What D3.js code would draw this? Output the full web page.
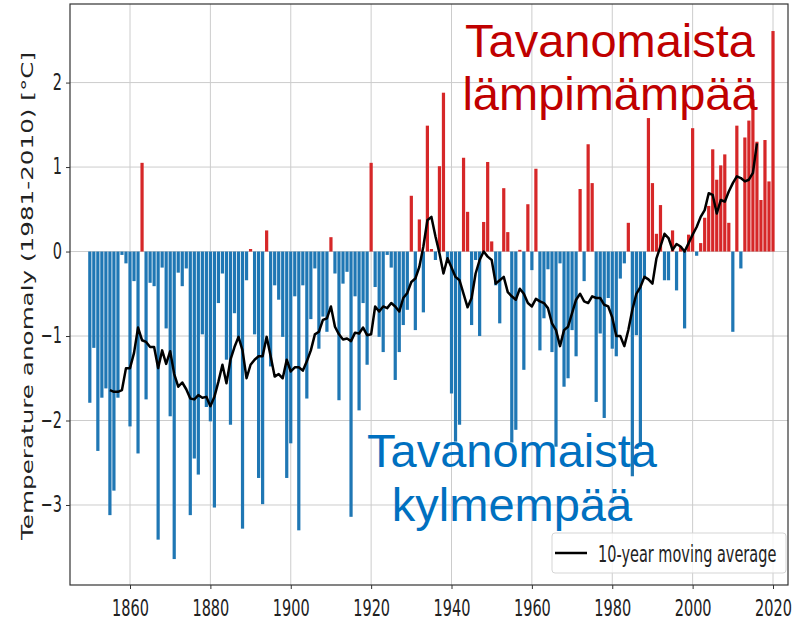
<!DOCTYPE html>
<html>
<head>
<meta charset="utf-8">
<script src="https://cdn.jsdelivr.net/npm/d3@7"></script>
<style>
  body { margin: 0; background: #fff; }
  svg { display: block; }
</style>
</head>
<body>
<div id="chart"></div>
<script>
'use strict';

// yearly temperature anomaly, 1850-2020 (one value per year)
var startYear = 1850;
var anomaly = [
  -1.79, -1.14, -2.36, -1.73, -1.62, -3.12, -2.83, -1.73, -0.04, -0.14,
  -2.07, -0.35, -2.39,  1.05, -1.75, -0.37, -0.41, -3.41, -0.19, -0.91,
  -1.95, -3.64, -0.25, -0.41, -0.20, -3.12, -2.45, -2.64, -0.98, -1.84,
  -2.01, -3.03, -0.61, -0.26, -1.28, -2.05, -0.73, -1.05, -3.28, -0.34,
   0.03, -0.98, -2.68, -2.99,  0.25, -1.36, -0.40, -0.57, -1.01, -2.68,
  -2.27, -0.53, -3.30, -0.40, -1.74, -0.80, -0.20, -1.15, -0.77, -0.95,
   0.17, -0.26, -1.76, -0.38, -0.24, -3.14, -0.53, -1.88, -0.61, -1.34,
   1.05, -0.42, -1.01, -1.19, -0.04, -0.19, -1.52, -1.19, -0.87, -0.69,
   0.66, -0.93,  0.38, -0.72,  1.49,  0.03, -0.10,  1.01,  1.88, -0.12,
  -1.68, -2.25, -2.05,  1.11,  0.47, -0.87, -0.10, -1.00,  0.35,  1.06,
   0.12, -0.40, -0.85,  0.75,  0.23, -2.26, -2.11,  0.02, -1.40,  0.56,
  -0.22,  0.98, -1.17, -0.79, -0.21, -1.19, -2.31, -0.14, -1.60, -1.50,
  -0.93, -1.24,  0.74, -0.35,  1.27,  0.81, -1.78, -0.97, -1.97, -0.55,
  -1.15, -1.24, -0.32, -0.14,  0.34, -2.66, -0.99, -2.31, -0.30,  1.58,
   0.81,  0.21,  0.55, -0.34, -0.34,  0.25, -0.46,  0.06, -0.91,  0.20,
   1.46, -0.05,  0.10,  0.40,  0.54,  1.21,  0.85,  1.02,  1.15,  0.34,
  -0.95,  1.49, -0.20,  1.35,  1.55,  1.80,  1.30,  0.61,  1.32,  0.83,
   2.61
];

// 10-year moving average, 1855-2016
var maStart = 1855;
var movingAvg = [
                                -1.64, -1.66, -1.66, -1.64, -1.38,
  -1.38, -1.20, -0.90, -1.05, -1.07, -1.13, -1.13, -1.38, -1.17, -1.33,
  -1.18, -1.45, -1.60, -1.55, -1.63, -1.74, -1.75, -1.70, -1.73, -1.72,
  -1.83, -1.72, -1.54, -1.34, -1.56, -1.28, -1.13, -1.01, -1.17, -1.50,
  -1.34, -1.28, -1.24, -1.24, -1.01, -1.24, -1.48, -1.45, -1.50, -1.28,
  -1.42, -1.37, -1.37, -1.41, -1.30, -1.17, -0.98, -0.95, -0.81, -0.79,
  -0.65, -0.89, -0.98, -1.04, -1.03, -1.06, -0.96, -0.97, -0.90, -0.99,
  -0.98, -0.65, -0.71, -0.65, -0.67, -0.61, -0.65, -0.71, -0.55, -0.49,
  -0.36, -0.32, -0.18,  0.06,  0.37,  0.41,  0.18, -0.02, -0.26, -0.08,
  -0.19, -0.30, -0.34, -0.50, -0.66, -0.55, -0.26, -0.10,  0.00, -0.06,
  -0.10, -0.38, -0.34, -0.30, -0.48, -0.53, -0.57, -0.44, -0.50, -0.61,
  -0.65, -0.56, -0.59, -0.61, -0.67, -0.85, -0.93, -1.12, -0.93, -0.89,
  -0.73, -0.57, -0.50, -0.59, -0.61, -0.53, -0.55, -0.55, -0.63, -0.65,
  -0.78, -1.00, -1.00, -1.12, -0.93, -0.69, -0.50, -0.42, -0.30, -0.33,
  -0.38, -0.08,  0.06,  0.21,  0.16,  0.02,  0.09,  0.06,  0.00,  0.10,
   0.20,  0.29,  0.41,  0.49,  0.69,  0.67,  0.45,  0.61,  0.59,  0.71,
   0.81,  0.89,  0.87,  0.83,  0.85,  0.93,  1.28
];

var xTicks = [1860, 1880, 1900, 1920, 1940, 1960, 1980, 2000, 2020];
var yTicks = [-3, -2, -1, 0, 1, 2];
var yLabel = 'Temperature anomaly (1981-2010) [°C]';
var legendLabel = '10-year moving average';
var warmText = ['Tavanomaista', 'lämpimämpää'];
var coldText = ['Tavanomaista', 'kylmempää'];

var width = 793;
var height = 623;
var plotLeft = 70, plotRight = 788, plotTop = 4, plotBottom = 585;
var stretch = 1.55;   // the picture is stretched vertically
var tickFont = 'DejaVu Sans';

var svg = d3.select('#chart')
  .append('svg')
  .attr('width', width)
  .attr('height', height);

var x = d3.scaleLinear().domain([1845.07, 2023.73]).range([plotLeft, plotRight]);
var y = d3.scaleLinear().domain([-3.947, 2.93]).range([plotBottom, plotTop]);

// grid
var grid = svg.append('g').attr('stroke', '#cccccc').attr('stroke-width', 1);
grid.selectAll('line.gx')
  .data(xTicks)
  .enter()
  .append('line')
  .attr('class', 'gx')
  .attr('x1', function(d) { return x(d); })
  .attr('x2', function(d) { return x(d); })
  .attr('y1', plotTop)
  .attr('y2', plotBottom);
grid.selectAll('line.gy')
  .data(yTicks)
  .enter()
  .append('line')
  .attr('class', 'gy')
  .attr('x1', plotLeft)
  .attr('x2', plotRight)
  .attr('y1', function(d) { return y(d); })
  .attr('y2', function(d) { return y(d); });

// bars
var bw = x(startYear + 0.4) - x(startYear - 0.4);
svg.append('g')
  .selectAll('rect')
  .data(anomaly)
  .enter()
  .append('rect')
  .attr('x', function(d, i) { return x(startYear + i) - bw / 2; })
  .attr('width', bw)
  .attr('y', function(d) { return y(Math.max(0, d)); })
  .attr('height', function(d) { return Math.abs(y(d) - y(0)); })
  .attr('fill', function(d) { return d >= 0 ? '#d62728' : '#1f77b4'; });

// moving average
var line = d3.line()
  .x(function(d, i) { return x(maStart + i); })
  .y(function(d) { return y(d); });
svg.append('path')
  .datum(movingAvg)
  .attr('d', line)
  .attr('fill', 'none')
  .attr('stroke', '#000')
  .attr('stroke-width', 2.5)
  .attr('stroke-linejoin', 'round');

// axes
var xAxis = svg.append('g')
  .attr('transform', 'translate(0,' + plotBottom + ')')
  .call(d3.axisBottom(x).tickValues(xTicks).tickFormat(d3.format('d')).tickSize(4).tickSizeOuter(0));
xAxis.select('.domain').remove();
xAxis.selectAll('line').attr('stroke', '#333');
xAxis.selectAll('text')
  .attr('font-size', 14.5)
  .attr('font-family', tickFont)
  .attr('fill', '#222')
  .attr('dy', 0)
  .attr('y', 31.5 / stretch)
  .attr('transform', 'scale(1,' + stretch + ')');

var yAxis = svg.append('g')
  .attr('transform', 'translate(' + plotLeft + ',0)')
  .call(d3.axisLeft(y).tickValues(yTicks).tickFormat(d3.format('d')).tickSize(4).tickPadding(4).tickSizeOuter(0));
yAxis.select('.domain').remove();
yAxis.selectAll('line').attr('stroke', '#333');
yAxis.selectAll('text')
  .attr('font-size', 14.5)
  .attr('font-family', tickFont)
  .attr('fill', '#222')
  .attr('dy', '0.30em')
  .attr('transform', 'scale(1,' + stretch + ')');

// frame
svg.append('rect')
  .attr('x', plotLeft)
  .attr('y', plotTop)
  .attr('width', plotRight - plotLeft)
  .attr('height', plotBottom - plotTop)
  .attr('fill', 'none')
  .attr('stroke', '#333')
  .attr('stroke-width', 1.2);

// y label
svg.append('text')
  .attr('transform', 'translate(33,296) rotate(-90)')
  .attr('text-anchor', 'middle')
  .attr('font-family', tickFont)
  .attr('font-size', 16)
  .attr('fill', '#222')
  .attr('textLength', 488)
  .attr('lengthAdjust', 'spacingAndGlyphs')
  .text(yLabel);

// legend
var legend = svg.append('g');
legend.append('rect')
  .attr('x', 552).attr('y', 533)
  .attr('width', 234).attr('height', 40)
  .attr('rx', 3)
  .attr('fill', '#fff').attr('fill-opacity', 0.8)
  .attr('stroke', '#d5d5d5');
legend.append('line')
  .attr('x1', 555).attr('x2', 587)
  .attr('y1', 553).attr('y2', 553)
  .attr('stroke', '#000').attr('stroke-width', 2.5);
legend.append('text')
  .attr('transform', 'translate(598,562) scale(1,' + stretch + ')')
  .attr('font-family', tickFont)
  .attr('font-size', 14.5)
  .attr('fill', '#222')
  .text(legendLabel);

// overlay annotations
svg.append('g')
  .selectAll('text')
  .data(warmText)
  .enter()
  .append('text')
  .attr('x', 610)
  .attr('y', function(d, i) { return 57 + i * 53; })
  .attr('text-anchor', 'middle')
  .attr('font-family', 'Liberation Sans, Arial, sans-serif')
  .attr('font-size', 47)
  .attr('fill', '#c00000')
  .text(function(d) { return d; });

svg.append('g')
  .selectAll('text')
  .data(coldText)
  .enter()
  .append('text')
  .attr('x', 512)
  .attr('y', function(d, i) { return 467 + i * 54; })
  .attr('text-anchor', 'middle')
  .attr('font-family', 'Liberation Sans, Arial, sans-serif')
  .attr('font-size', 47)
  .attr('fill', '#0070c0')
  .text(function(d) { return d; });
</script>
</body>
</html>
